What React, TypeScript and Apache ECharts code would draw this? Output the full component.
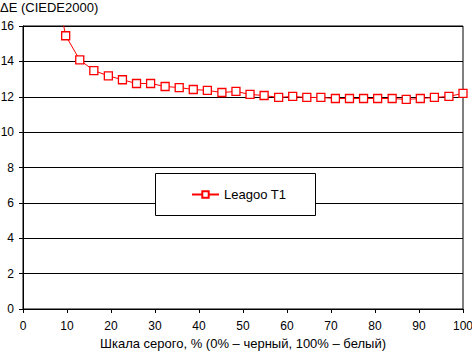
import React, { useEffect, useRef } from "react";
import * as echarts from "echarts";

const grayPercent: number[] = [
  0, 3.2, 6.5, 9.7, 12.9, 16.1, 19.4, 22.6, 25.8, 29.0, 32.3, 35.5, 38.7, 41.9, 45.2, 48.4,
  51.6, 54.8, 58.1, 61.3, 64.5, 67.7, 71.0, 74.2, 77.4, 80.6, 83.9, 87.1, 90.3, 93.5, 96.8, 100,
];
const deltaE: number[] = [
  25.0, 22.0, 19.4, 15.45, 14.08, 13.48, 13.18, 12.96, 12.75, 12.75, 12.58, 12.52, 12.41, 12.36, 12.24, 12.3,
  12.13, 12.07, 11.96, 12.02, 11.96, 11.96, 11.9, 11.9, 11.9, 11.9, 11.9, 11.85, 11.9, 11.96, 12.02, 12.19,
];
const seriesName = "Leagoo T1";
const yTitle = "ΔE (CIEDE2000)";
const xTitle = "Шкала серого, % (0% – черный, 100% – белый)";

const FONT = '"Liberation Sans", Arial, sans-serif';

export default function App() {
  const ref = useRef<HTMLDivElement>(null);
  useEffect(() => {
    if (!ref.current) return;
    const chart = echarts.init(ref.current, null, { renderer: "svg" });
    chart.setOption({
      animation: false,
      backgroundColor: "#fff",
      textStyle: { fontFamily: FONT, color: "#000" },
      title: {
        text: yTitle,
        left: 0,
        top: 1,
        padding: 0,
        textStyle: { fontSize: 13, fontWeight: "normal", color: "#000", fontFamily: FONT },
      },
      grid: {
        left: 23,
        right: 9,
        top: 26,
        bottom: 43,
        outerBoundsMode: "none",
        containLabel: false,
        show: true,
        borderColor: "#000",
        borderWidth: 1,
        backgroundColor: "transparent",
      },
      xAxis: {
        type: "value",
        min: 0,
        max: 100,
        interval: 10,
        name: xTitle,
        nameLocation: "middle",
        nameGap: 28,
        nameTextStyle: { fontSize: 13, color: "#000", fontFamily: FONT },
        axisLine: { show: true, lineStyle: { color: "#000", width: 1 } },
        axisTick: { show: true, inside: false, length: 4, lineStyle: { color: "#000" } },
        axisLabel: { fontSize: 12, color: "#000", margin: 11, fontFamily: FONT },
        splitLine: { show: false },
      },
      yAxis: {
        type: "value",
        min: 0,
        max: 16,
        interval: 2,
        axisLine: { show: true, lineStyle: { color: "#000", width: 1 } },
        axisTick: { show: true, inside: false, length: 4, lineStyle: { color: "#000" } },
        axisLabel: { fontSize: 12, color: "#000", margin: 9, fontFamily: FONT },
        splitLine: { show: true, lineStyle: { color: "#000", width: 1 } },
      },
      legend: {
        show: true,
        left: 191,
        top: 188,
        padding: 0,
        itemWidth: 27,
        itemHeight: 8,
        itemGap: 5,
        z: 200,
        textStyle: { fontSize: 13, color: "#000", fontFamily: FONT },
        data: [seriesName],
      },
      graphic: [
        {
          type: "rect",
          z: 100,
          shape: { x: 155.5, y: 173.5, width: 160, height: 42 },
          style: { fill: "#fff", stroke: "#000", lineWidth: 1 },
        },
      ],
      series: [
        {
          name: seriesName,
          type: "line",
          data: grayPercent.map((x, i) => [x, deltaE[i]]),
          symbol: "rect",
          symbolSize: 8,
          showAllSymbol: true,
          clip: true,
          lineStyle: { color: "#ff0000", width: 1 },
          itemStyle: { color: "#fff", borderColor: "#ff0000", borderWidth: 1.3 },
          z: 10,
        },
      ],
    });
    return () => chart.dispose();
  }, []);
  return <div ref={ref} style={{ width: 472, height: 352, position: "absolute", left: 0, top: 0 }} />;
}
